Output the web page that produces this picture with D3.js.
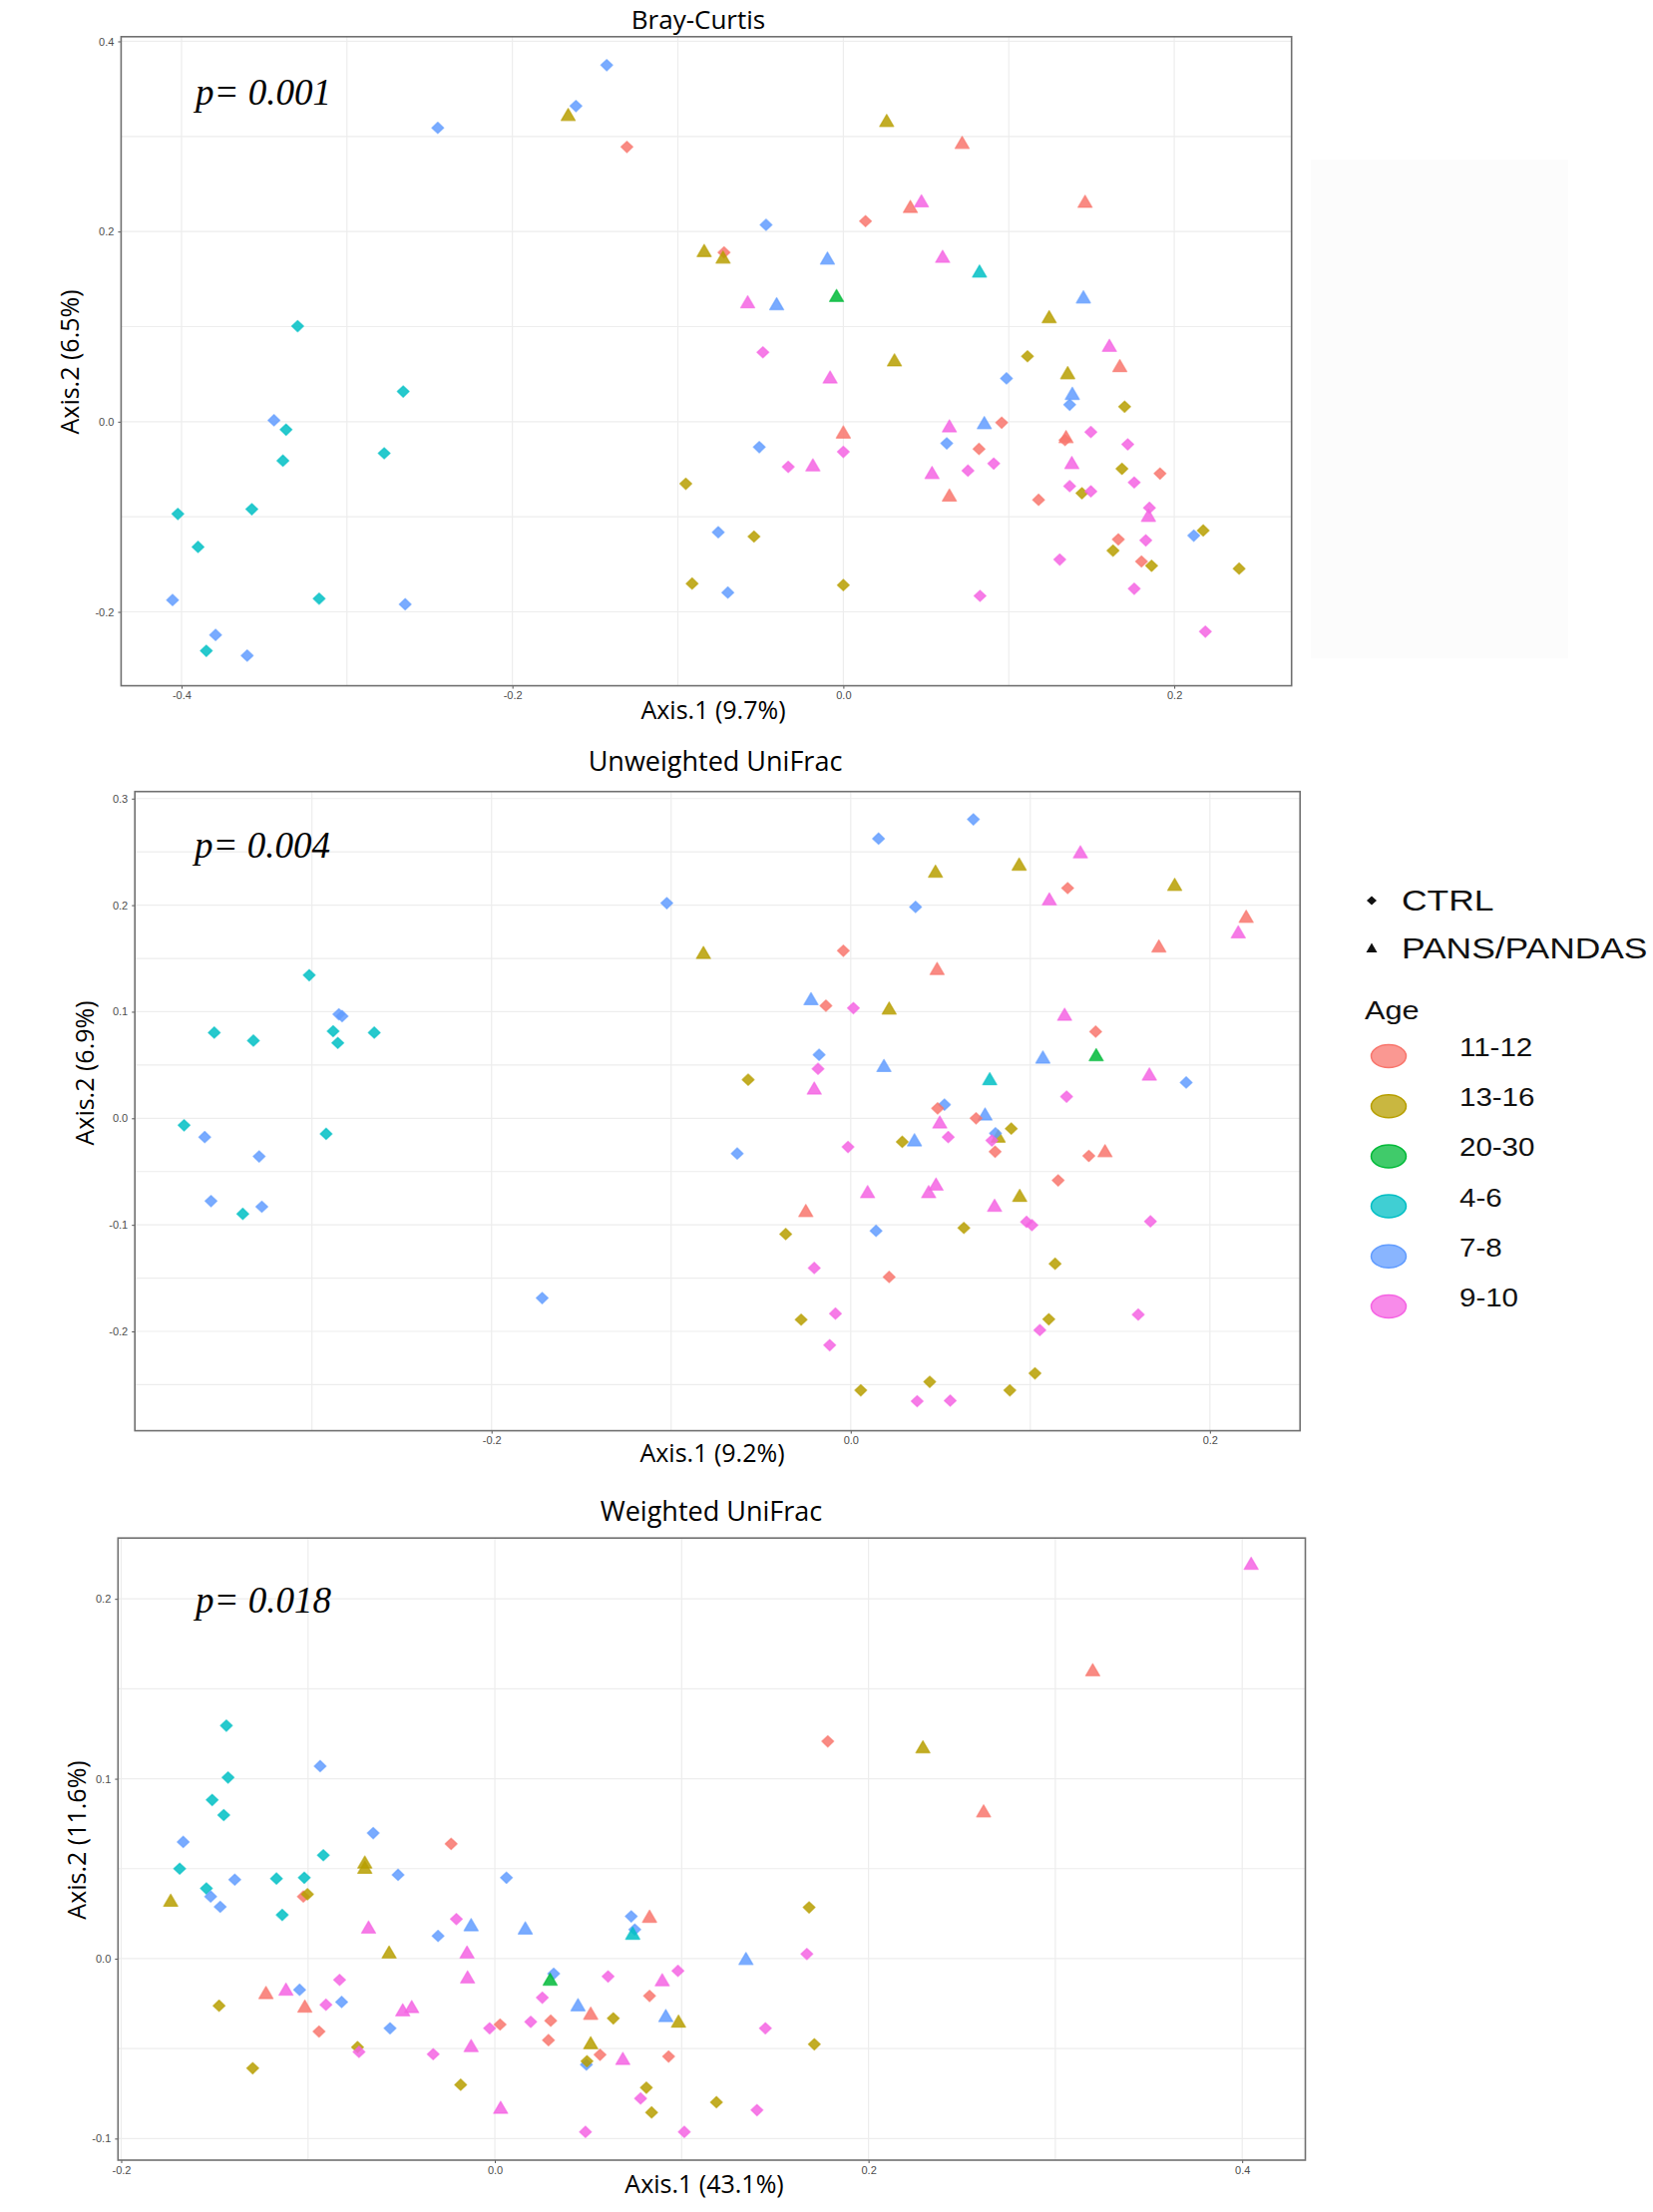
<!DOCTYPE html>
<html>
<head>
<meta charset="utf-8">
<script src="https://cdn.jsdelivr.net/npm/d3@7"></script>
<style>
  body { margin: 0; background: #fff; }
  svg { display: block; }
</style>
</head>
<body>
<div id="chart"></div>
<script>
// categories
const ageGroups = ["11-12", "13-16", "20-30", "4-6", "7-8", "9-10"];
const ageColors = ["#F8766D", "#B79F00", "#00BA38", "#00BFC4", "#619CFF", "#F564E3"];
const subjectGroups = ["CTRL", "PANS/PANDAS"];

// points: [Axis.1, Axis.2, age group, subject group]  (C = CTRL, P = PANS/PANDAS)
const brayCurtis = [
  [-0.143, 0.375, "7-8", "C"], [-0.1616, 0.332, "7-8", "C"], [-0.1663, 0.322, "13-16", "P"],
  [-0.2451, 0.309, "7-8", "C"], [-0.1308, 0.289, "11-12", "C"], [-0.0467, 0.207, "7-8", "C"],
  [-0.0841, 0.179, "13-16", "P"], [-0.0721, 0.178, "11-12", "C"], [-0.0727, 0.172, "13-16", "P"],
  [-0.0096, 0.171, "7-8", "P"], [-0.0578, 0.125, "9-10", "P"], [-0.0403, 0.123, "7-8", "P"],
  [-0.0486, 0.073, "9-10", "C"], [-0.008, 0.046, "9-10", "P"], [-0.3298, 0.1005, "4-6", "C"],
  [-0.266, 0.0317, "4-6", "C"], [-0.3441, 0.0015, "7-8", "C"], [-0.3368, -0.0084, "4-6", "C"],
  [-0.3387, -0.041, "4-6", "C"], [-0.2775, -0.0332, "4-6", "C"], [-0.0508, -0.0267, "7-8", "C"],
  [-0.0333, -0.0475, "9-10", "C"], [-0.0184, -0.0465, "9-10", "P"], [-0.0952, -0.0653, "13-16", "C"],
  [-0.4022, -0.097, "4-6", "C"], [-0.3575, -0.092, "4-6", "C"], [-0.390, -0.1317, "4-6", "C"],
  [-0.0756, -0.1163, "7-8", "C"], [-0.054, -0.1208, "13-16", "C"], [-0.0914, -0.1703, "13-16", "C"],
  [-0.0698, -0.1797, "7-8", "C"], [-0.4054, -0.1876, "7-8", "C"], [-0.3168, -0.1861, "4-6", "C"],
  [-0.2648, -0.192, "7-8", "C"], [-0.3794, -0.2243, "7-8", "C"], [-0.385, -0.241, "4-6", "C"],
  [-0.3603, -0.246, "7-8", "C"], [0.0262, 0.3158, "13-16", "P"], [0.0718, 0.2926, "11-12", "P"],
  [0.0405, 0.2253, "11-12", "P"], [0.0472, 0.2312, "9-10", "P"], [0.0134, 0.2109, "11-12", "C"],
  [0.1461, 0.2307, "11-12", "P"], [0.06, 0.1728, "9-10", "P"], [0.0823, 0.1574, "4-6", "P"],
  [-0.0041, 0.1317, "20-30", "P"], [0.1451, 0.1302, "7-8", "P"], [0.1244, 0.1094, "13-16", "P"],
  [0.1608, 0.0792, "9-10", "P"], [0.1113, 0.0688, "13-16", "C"], [0.0309, 0.0639, "13-16", "P"],
  [0.1671, 0.0579, "11-12", "P"], [0.1356, 0.0505, "13-16", "P"], [0.0986, 0.0455, "7-8", "C"],
  [0.1384, 0.0287, "7-8", "P"], [0.1368, 0.0178, "7-8", "C"], [0.17, 0.0158, "13-16", "C"],
  [0.0, -0.0119, "11-12", "P"], [0.0641, -0.0054, "9-10", "P"], [0.0852, -0.002, "7-8", "P"],
  [0.0957, -0.001, "11-12", "C"], [0.0, -0.0317, "9-10", "C"], [0.0625, -0.0228, "7-8", "C"],
  [0.082, -0.0287, "11-12", "C"], [0.1346, -0.0168, "11-12", "P"], [0.134, -0.0193, "11-12", "C"],
  [0.1496, -0.0109, "9-10", "C"], [0.1719, -0.0238, "9-10", "C"], [0.0536, -0.0545, "9-10", "P"],
  [0.0753, -0.0515, "9-10", "C"], [0.0909, -0.044, "9-10", "C"], [0.1381, -0.044, "9-10", "P"],
  [0.1684, -0.0495, "13-16", "C"], [0.1914, -0.0545, "11-12", "C"], [0.1758, -0.0639, "9-10", "C"],
  [0.0641, -0.0782, "11-12", "P"], [0.118, -0.0822, "11-12", "C"], [0.1368, -0.0678, "9-10", "C"],
  [0.1442, -0.0752, "13-16", "C"], [0.1496, -0.0733, "9-10", "C"], [0.185, -0.0906, "9-10", "C"],
  [0.1844, -0.0995, "9-10", "P"], [0.2118, -0.1198, "7-8", "C"], [0.2175, -0.1144, "13-16", "C"],
  [0.1662, -0.1238, "11-12", "C"], [0.163, -0.1356, "13-16", "C"], [0.1828, -0.1248, "9-10", "C"],
  [0.1308, -0.145, "9-10", "C"], [0.1802, -0.147, "11-12", "C"], [0.1863, -0.1515, "13-16", "C"],
  [0.2392, -0.1545, "13-16", "C"], [0.0, -0.1718, "13-16", "C"], [0.0826, -0.1832, "9-10", "C"],
  [0.1758, -0.1757, "9-10", "C"], [0.2188, -0.2208, "9-10", "C"]
];

const unweightedUniFrac = [
  [-0.1024, 0.2019, "7-8", "C"], [-0.082, 0.1546, "13-16", "P"], [-0.0221, 0.1113, "7-8", "P"],
  [-0.0138, 0.1056, "11-12", "C"], [-0.0176, 0.0596, "7-8", "C"], [-0.0182, 0.0464, "9-10", "C"],
  [-0.0203, 0.0274, "9-10", "P"], [-0.0571, 0.0362, "13-16", "C"], [-0.0632, -0.0331, "7-8", "C"],
  [-0.025, -0.0875, "11-12", "P"], [-0.0362, -0.1087, "13-16", "C"], [-0.0203, -0.1405, "9-10", "C"],
  [-0.0276, -0.189, "13-16", "C"], [-0.1718, -0.1687, "7-8", "C"], [-0.3015, 0.1343, "4-6", "C"],
  [-0.285, 0.0976, "7-8", "C"], [-0.2832, 0.0958, "7-8", "C"], [-0.2882, 0.0817, "4-6", "C"],
  [-0.2856, 0.0707, "4-6", "C"], [-0.2653, 0.0804, "4-6", "C"], [-0.3544, 0.0804, "4-6", "C"],
  [-0.3326, 0.0729, "4-6", "C"], [-0.3712, -0.0066, "4-6", "C"], [-0.3597, -0.0177, "7-8", "C"],
  [-0.2921, -0.0146, "4-6", "C"], [-0.3294, -0.0358, "7-8", "C"], [-0.3562, -0.0777, "7-8", "C"],
  [-0.3385, -0.0897, "4-6", "C"], [-0.3279, -0.083, "7-8", "C"], [0.0683, 0.2805, "7-8", "C"],
  [0.0155, 0.2624, "7-8", "C"], [0.1279, 0.2491, "9-10", "P"], [0.0938, 0.2376, "13-16", "P"],
  [0.0472, 0.231, "13-16", "P"], [0.1208, 0.216, "11-12", "C"], [0.1804, 0.2186, "13-16", "P"],
  [0.1106, 0.2049, "9-10", "P"], [0.0361, 0.1983, "7-8", "C"], [0.2202, 0.1886, "11-12", "P"],
  [0.2158, 0.174, "9-10", "P"], [0.1716, 0.1608, "11-12", "P"], [-0.0041, 0.1572, "11-12", "C"],
  [0.0481, 0.1396, "11-12", "P"], [0.0015, 0.1034, "9-10", "C"], [0.0214, 0.1025, "13-16", "P"],
  [0.1191, 0.0967, "9-10", "P"], [0.1364, 0.0813, "11-12", "C"], [0.107, 0.0565, "7-8", "P"],
  [0.1367, 0.0587, "20-30", "P"], [0.0185, 0.0486, "7-8", "P"], [0.1663, 0.0406, "9-10", "P"],
  [0.1868, 0.0336, "7-8", "C"], [0.0774, 0.0362, "4-6", "P"], [0.1202, 0.0203, "9-10", "C"],
  [0.0522, 0.0128, "7-8", "C"], [0.0484, 0.0093, "11-12", "C"], [0.0748, 0.0031, "7-8", "P"],
  [0.0698, 0.0, "11-12", "C"], [0.0496, -0.0044, "9-10", "P"], [0.0894, -0.0097, "13-16", "C"],
  [0.0821, -0.0177, "13-16", "P"], [0.0806, -0.0141, "7-8", "C"], [0.0786, -0.0208, "9-10", "C"],
  [0.0543, -0.0177, "9-10", "C"], [0.0287, -0.0221, "13-16", "C"], [0.0355, -0.0212, "7-8", "P"],
  [-0.0015, -0.0269, "9-10", "C"], [0.0804, -0.0314, "11-12", "C"], [0.1326, -0.0353, "11-12", "C"],
  [0.1416, -0.0314, "11-12", "P"], [0.1155, -0.0583, "11-12", "C"], [0.0094, -0.0698, "9-10", "P"],
  [0.0434, -0.0698, "9-10", "P"], [0.0475, -0.0627, "9-10", "P"], [0.0941, -0.0733, "13-16", "P"],
  [0.0801, -0.0826, "9-10", "P"], [0.0141, -0.1056, "7-8", "C"], [0.063, -0.1029, "13-16", "C"],
  [0.0979, -0.0972, "9-10", "C"], [0.1009, -0.1003, "9-10", "C"], [0.1669, -0.0967, "9-10", "C"],
  [0.1138, -0.1365, "13-16", "C"], [0.0214, -0.1489, "11-12", "C"], [-0.0085, -0.1833, "9-10", "C"],
  [0.1601, -0.1842, "9-10", "C"], [0.1103, -0.1886, "13-16", "C"], [0.1053, -0.1988, "9-10", "C"],
  [-0.0117, -0.2129, "9-10", "C"], [0.1026, -0.2394, "13-16", "C"], [0.044, -0.2473, "13-16", "C"],
  [0.0056, -0.2553, "13-16", "C"], [0.0886, -0.2553, "13-16", "C"], [0.037, -0.2655, "9-10", "C"],
  [0.0554, -0.265, "9-10", "C"]
];

const weightedUniFrac = [
  [-0.1437, 0.1295, "4-6", "C"], [-0.0935, 0.107, "7-8", "C"], [-0.1428, 0.1007, "4-6", "C"],
  [-0.1513, 0.0882, "4-6", "C"], [-0.1451, 0.0798, "4-6", "C"], [-0.1668, 0.0649, "7-8", "C"],
  [-0.0651, 0.0698, "7-8", "C"], [-0.0234, 0.0638, "11-12", "C"], [-0.0918, 0.0575, "4-6", "C"],
  [-0.1687, 0.05, "4-6", "C"], [-0.0696, 0.0531, "13-16", "P"], [-0.0696, 0.0502, "13-16", "P"],
  [-0.0518, 0.0466, "7-8", "C"], [0.0062, 0.045, "7-8", "C"], [-0.1392, 0.0439, "7-8", "C"],
  [-0.1169, 0.0445, "4-6", "C"], [-0.102, 0.045, "4-6", "C"], [-0.1544, 0.039, "4-6", "C"],
  [-0.1521, 0.0345, "7-8", "C"], [-0.1025, 0.0345, "11-12", "C"], [-0.1003, 0.0358, "13-16", "C"],
  [-0.1735, 0.0319, "13-16", "P"], [-0.147, 0.0288, "7-8", "C"], [-0.1138, 0.0243, "4-6", "C"],
  [-0.0206, 0.022, "9-10", "C"], [-0.0127, 0.0183, "7-8", "P"], [-0.0676, 0.017, "9-10", "P"],
  [0.0163, 0.0165, "7-8", "P"], [-0.0304, 0.0126, "7-8", "C"], [0.073, 0.0235, "7-8", "C"],
  [0.0828, 0.023, "11-12", "P"], [0.0749, 0.0162, "7-8", "C"], [0.0738, 0.0136, "4-6", "P"],
  [-0.0566, 0.0031, "13-16", "P"], [-0.0149, 0.0031, "9-10", "P"], [0.1344, -0.0005, "7-8", "P"],
  [0.167, 0.0026, "9-10", "C"], [0.1682, 0.0285, "13-16", "C"], [0.0315, -0.0084, "7-8", "C"],
  [0.098, -0.0068, "9-10", "C"], [0.0606, -0.0099, "9-10", "C"], [0.0296, -0.012, "20-30", "P"],
  [-0.0146, -0.0107, "9-10", "P"], [0.0896, -0.0123, "9-10", "P"], [-0.0831, -0.0118, "9-10", "C"],
  [-0.1045, -0.0173, "7-8", "C"], [-0.1225, -0.0194, "11-12", "P"], [-0.1118, -0.0175, "9-10", "P"],
  [0.0254, -0.0217, "9-10", "C"], [0.0828, -0.0207, "11-12", "C"], [-0.1476, -0.0262, "13-16", "C"],
  [-0.1017, -0.0269, "11-12", "P"], [-0.0904, -0.0256, "9-10", "C"], [-0.082, -0.0241, "7-8", "C"],
  [0.0445, -0.0262, "7-8", "P"], [-0.0493, -0.029, "9-10", "P"], [-0.0445, -0.0272, "9-10", "P"],
  [0.0513, -0.0309, "11-12", "P"], [0.0915, -0.0322, "7-8", "P"], [0.0634, -0.0332, "13-16", "C"],
  [0.0983, -0.0353, "13-16", "P"], [0.0299, -0.0345, "11-12", "C"], [0.0192, -0.0351, "9-10", "C"],
  [0.0028, -0.0366, "11-12", "C"], [-0.0028, -0.0387, "9-10", "C"], [-0.0561, -0.0387, "7-8", "C"],
  [-0.0941, -0.0405, "11-12", "C"], [0.1448, -0.0387, "9-10", "C"], [0.0287, -0.0453, "11-12", "C"],
  [0.0513, -0.0473, "13-16", "P"], [-0.0127, -0.0489, "9-10", "P"], [-0.0735, -0.0492, "13-16", "C"],
  [-0.0727, -0.0518, "9-10", "C"], [-0.033, -0.0531, "9-10", "C"], [0.0563, -0.0534, "11-12", "C"],
  [0.093, -0.0544, "11-12", "C"], [0.0685, -0.056, "9-10", "P"], [0.049, -0.0589, "7-8", "C"],
  [0.0493, -0.057, "13-16", "C"], [0.171, -0.0476, "13-16", "C"], [-0.1296, -0.0609, "13-16", "C"],
  [-0.0183, -0.0701, "13-16", "C"], [0.0811, -0.0717, "13-16", "C"], [0.078, -0.0777, "9-10", "C"],
  [0.1186, -0.0798, "13-16", "C"], [0.0031, -0.0832, "9-10", "P"], [0.0839, -0.0855, "13-16", "C"],
  [0.1403, -0.0842, "9-10", "C"], [0.0485, -0.0963, "9-10", "C"], [0.1014, -0.0963, "9-10", "C"],
  [0.4048, 0.2192, "9-10", "P"], [0.32, 0.16, "11-12", "P"], [0.1782, 0.1208, "11-12", "C"],
  [0.2291, 0.1172, "13-16", "P"], [0.2616, 0.0816, "11-12", "P"]
];

// tick values (major labelled, minor grid only)
const bcXTicks = [-0.4, -0.2, 0.0, 0.2], bcXMinor = [-0.3, -0.1, 0.1];
const bcYTicks = [-0.2, 0.0, 0.2, 0.4], bcYMinor = [-0.1, 0.1, 0.3];
const uuXTicks = [-0.2, 0.0, 0.2], uuXMinor = [-0.3, -0.1, 0.1];
const uuYTicks = [-0.2, -0.1, 0.0, 0.1, 0.2, 0.3], uuYMinor = [-0.25, -0.15, -0.05, 0.05, 0.15, 0.25];
const wuXTicks = [-0.2, 0.0, 0.2, 0.4], wuXMinor = [-0.1, 0.1, 0.3];
const wuYTicks = [-0.1, 0.0, 0.1, 0.2], wuYMinor = [-0.05, 0.05, 0.15];

const W = 1657, H = 2218;
const svg = d3.select("#chart").append("svg").attr("width", W).attr("height", H);

const color = d3.scaleOrdinal().domain(ageGroups).range(ageColors);

// ggplot-ish marker shapes (rounded by a thin stroke of the same colour)
function marker(type) {
    if (type === "P") return "M0,-7L7,5L-7,5Z";
    return "M0,-5.6L5.9,0L0,5.6L-5.9,0Z";
}

// faint leftover legend box right of the first panel
svg.append("rect").attr("x", 1314).attr("y", 160).attr("width", 258).attr("height", 500)
   .attr("fill", "#fcfcfc");

const panels = [
    { title: "Bray-Curtis", xLab: "Axis.1 (9.7%)", yLab: "Axis.2 (6.5%)", pval: "p= 0.001",
      data: brayCurtis, xDom: [-0.4365, 0.2709], yDom: [-0.2777, 0.4049],
      xT: bcXTicks, xM: bcXMinor, yT: bcYTicks, yM: bcYMinor,
      box: { l: 121.4, r: 1294.7, t: 36.8, b: 687.6 },
      titleX: 700, titleY: 29, titleSize: 26,
      xLabX: 715, xLabY: 721, yLabX: 79, yLabY: 363, pX: 196, pY: 105 },
    { title: "Unweighted UniFrac", xLab: "Axis.1 (9.2%)", yLab: "Axis.2 (6.9%)", pval: "p= 0.004",
      data: unweightedUniFrac, xDom: [-0.3986, 0.2502], yDom: [-0.2932, 0.3066],
      xT: uuXTicks, xM: uuXMinor, yT: uuYTicks, yM: uuYMinor,
      box: { l: 135.2, r: 1303.2, t: 793.7, b: 1434.6 },
      titleX: 717, titleY: 773, titleSize: 27,
      xLabX: 714, xLabY: 1466, yLabX: 94, yLabY: 1076, pX: 195, pY: 860 },
    { title: "Weighted UniFrac", xLab: "Axis.1 (43.1%)", yLab: "Axis.2 (11.6%)", pval: "p= 0.018",
      data: weightedUniFrac, xDom: [-0.2017, 0.4338], yDom: [-0.112, 0.2338],
      xT: wuXTicks, xM: wuXMinor, yT: wuYTicks, yM: wuYMinor,
      box: { l: 118.3, r: 1308.5, t: 1542.2, b: 2166 },
      titleX: 713, titleY: 1525, titleSize: 27,
      xLabX: 706, xLabY: 2199, yLabX: 86, yLabY: 1845, pX: 196, pY: 1617 }
];

const fmt = d => d.toFixed(1);

panels.forEach(p => {
    const x = d3.scaleLinear().domain(p.xDom).range([p.box.l, p.box.r]);
    const y = d3.scaleLinear().domain(p.yDom).range([p.box.b, p.box.t]);
    const g = svg.append("g");

    // panel background + grid
    g.append("rect")
     .attr("x", p.box.l).attr("y", p.box.t)
     .attr("width", p.box.r - p.box.l).attr("height", p.box.b - p.box.t)
     .attr("fill", "#fff");

    g.selectAll(".vgrid").data(p.xT.concat(p.xM)).enter().append("line")
     .attr("x1", d => x(d)).attr("x2", d => x(d))
     .attr("y1", p.box.t).attr("y2", p.box.b)
     .attr("stroke", "#ededed").attr("stroke-width", 1.2);
    g.selectAll(".hgrid").data(p.yT.concat(p.yM)).enter().append("line")
     .attr("y1", d => y(d)).attr("y2", d => y(d))
     .attr("x1", p.box.l).attr("x2", p.box.r)
     .attr("stroke", "#ededed").attr("stroke-width", 1.2);

    // axes
    const xAxis = g.append("g")
        .attr("transform", `translate(0,${p.box.b})`)
        .call(d3.axisBottom(x).tickValues(p.xT).tickFormat(fmt).tickSize(3).tickPadding(3));
    const yAxis = g.append("g")
        .attr("transform", `translate(${p.box.l},0)`)
        .call(d3.axisLeft(y).tickValues(p.yT).tickFormat(fmt).tickSize(3).tickPadding(4));
    [xAxis, yAxis].forEach(a => {
        a.select(".domain").remove();
        a.selectAll("line").attr("stroke", "#555");
        a.selectAll("text").attr("fill", "#4d4d4d")
         .style("font-family", "'Liberation Sans', Arial, sans-serif").style("font-size", "11px");
    });

    // points
    g.selectAll(".pt").data(p.data).enter().append("path")
     .attr("d", d => marker(d[3]))
     .attr("transform", d => `translate(${x(d[0])},${y(d[1])})`)
     .attr("fill", d => color(d[2]))
     .attr("fill-opacity", 0.85)
     .attr("stroke", d => color(d[2]))
     .attr("stroke-opacity", 0.6)
     .attr("stroke-width", 1.4)
     .attr("stroke-linejoin", "round");

    // frame
    g.append("rect")
     .attr("x", p.box.l).attr("y", p.box.t)
     .attr("width", p.box.r - p.box.l).attr("height", p.box.b - p.box.t)
     .attr("fill", "none").attr("stroke", "#707070").attr("stroke-width", 1.6);

    // texts
    g.append("text").attr("x", p.titleX).attr("y", p.titleY)
     .attr("text-anchor", "middle")
     .style("font-family", "'Open Sans', sans-serif").style("font-size", p.titleSize + "px")
     .text(p.title);
    g.append("text").attr("x", p.xLabX).attr("y", p.xLabY)
     .attr("text-anchor", "middle")
     .style("font-family", "'Open Sans', sans-serif").style("font-size", "25px")
     .text(p.xLab);
    g.append("text")
     .attr("transform", `translate(${p.yLabX},${p.yLabY}) rotate(-90)`)
     .attr("text-anchor", "middle")
     .style("font-family", "'Open Sans', sans-serif").style("font-size", "25px")
     .text(p.yLab);
    g.append("text").attr("x", p.pX).attr("y", p.pY)
     .style("font-family", "'Liberation Serif', 'Times New Roman', serif")
     .style("font-style", "italic").style("font-size", "37px")
     .text(p.pval);
});

// legend
const legend = svg.append("g");
const stretch = 1.18;
function legendText(xp, yp, size, str) {
    legend.append("text")
          .attr("transform", `translate(${xp},${yp}) scale(${stretch},1)`)
          .style("font-family", "'Liberation Sans', Arial, sans-serif")
          .style("font-size", size + "px")
          .attr("fill", "#111")
          .text(str);
}
const shapeRows = [903, 951];
subjectGroups.forEach((s, i) => {
    legend.append("path")
          .attr("d", i === 0 ? "M0,-4.5L5,0L0,4.5L-5,0Z" : "M0,-5.5L5.5,4L-5.5,4Z")
          .attr("transform", `translate(1375,${shapeRows[i]})`)
          .attr("fill", "#111");
    legendText(1405, shapeRows[i] + 10, 30, s);
});
legendText(1368, 1022, 26, "Age");
ageGroups.forEach((a, i) => {
    const cy = 1059 + i * 50.2;
    legend.append("ellipse")
          .attr("cx", 1392).attr("cy", cy).attr("rx", 17.5).attr("ry", 11.5)
          .attr("fill", color(a)).attr("fill-opacity", 0.75)
          .attr("stroke", color(a)).attr("stroke-width", 1.5);
    legendText(1463, cy, 25, a);
});
</script>
</body>
</html>
